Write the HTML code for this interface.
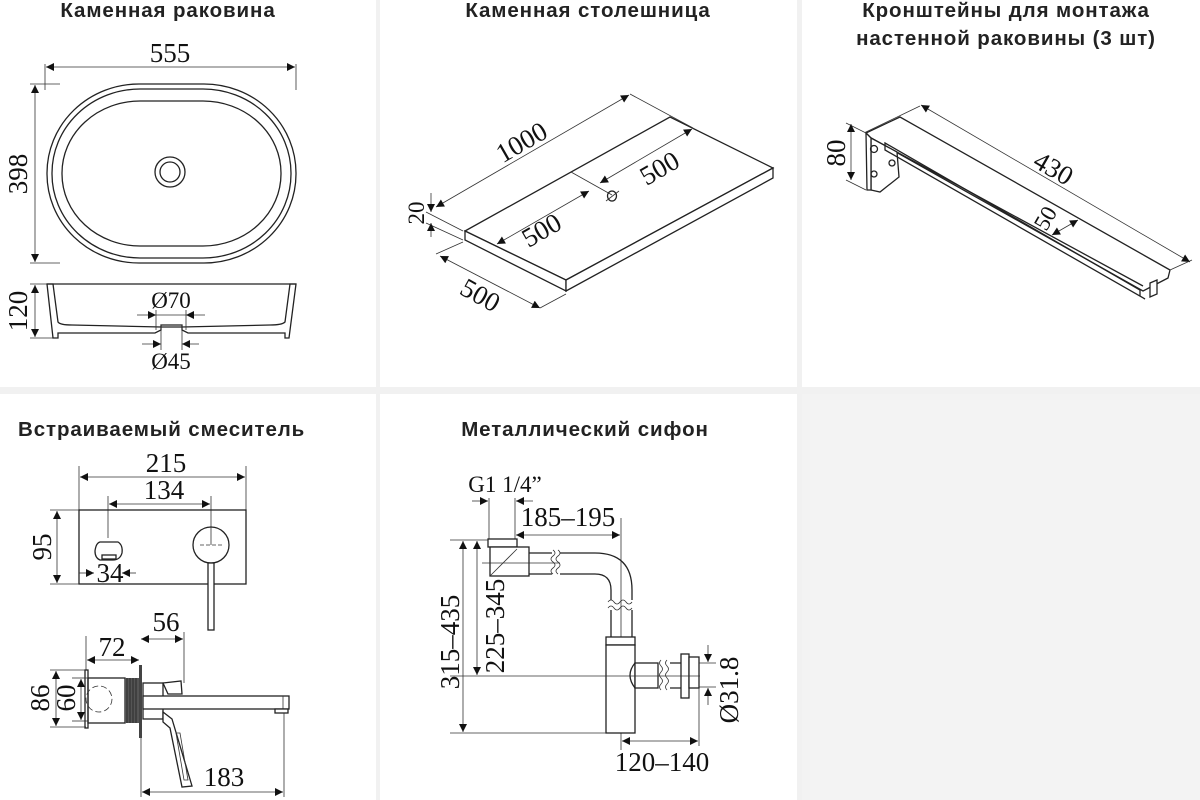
<!DOCTYPE html>
<html><head><meta charset="utf-8"><style>
html,body{margin:0;padding:0;background:#fff}
svg{display:block}
.t{font-family:"Liberation Sans",sans-serif;font-weight:bold;font-size:20.5px;letter-spacing:0.9px;fill:#222}
.n{font-family:"Liberation Serif",serif;font-size:27px;fill:#111}
.s{font-size:23px}
.l{stroke:#222;stroke-width:1.3;fill:none}
.th{stroke:#333;stroke-width:0.8;fill:none}
.w{stroke:#222;stroke-width:1.3;fill:#fff}
</style></head><body>
<svg width="1200" height="800" viewBox="0 0 1200 800" xmlns="http://www.w3.org/2000/svg">
<defs>
<marker id="a" viewBox="0 0 10 10" refX="10" refY="5" markerWidth="14" markerHeight="8" markerUnits="userSpaceOnUse" orient="auto-start-reverse"><path d="M0,0L10,5L0,10z" fill="#111"/></marker>
<pattern id="h" width="5" height="5" patternUnits="userSpaceOnUse" patternTransform="rotate(45)"><rect width="5" height="5" fill="#fff"/><line x1="0" y1="0" x2="0" y2="5" stroke="#333" stroke-width="1.4"/></pattern>
</defs>
<rect x="0" y="0" width="1200" height="800" fill="#fff"/>
<rect x="376" y="0" width="4" height="800" fill="#f1f1f1"/>
<rect x="797" y="0" width="5" height="800" fill="#f1f1f1"/>
<rect x="0" y="387" width="1200" height="7" fill="#f1f1f1"/>
<rect x="802" y="394" width="398" height="406" fill="#f3f3f3"/>

<!-- Panel 1 -->
<text class="t" x="168" y="17" text-anchor="middle">Каменная раковина</text>
<text class="n" x="170" y="62" text-anchor="middle">555</text>
<line class="th" x1="45" y1="64" x2="45" y2="90"/><line class="th" x1="296" y1="64" x2="296" y2="90"/>
<line class="th" x1="46" y1="67" x2="295" y2="67" marker-start="url(#a)" marker-end="url(#a)"/>
<rect class="l" x="47" y="84" width="249" height="179" rx="92" ry="89"/>
<rect class="l" x="52" y="89" width="239" height="169" rx="88" ry="84"/>
<rect class="l" x="62" y="101" width="219" height="145" rx="78" ry="72"/>
<circle class="l" cx="170" cy="172" r="15"/><circle class="l" cx="170" cy="172" r="10"/>
<line class="th" x1="30" y1="84" x2="60" y2="84"/><line class="th" x1="30" y1="263" x2="60" y2="263"/>
<line class="th" x1="35" y1="85" x2="35" y2="262" marker-start="url(#a)" marker-end="url(#a)"/>
<text class="n" transform="translate(27,174) rotate(-90)" text-anchor="middle">398</text>
<line class="th" x1="30" y1="284" x2="50" y2="284"/><line class="th" x1="30" y1="338" x2="55" y2="338"/>
<line class="th" x1="35" y1="285" x2="35" y2="337" marker-start="url(#a)" marker-end="url(#a)"/>
<text class="n" transform="translate(27,311) rotate(-90)" text-anchor="middle">120</text>
<line class="l" x1="47" y1="284" x2="296" y2="284"/>
<path class="l" d="M47,284 L53,338 L58,338 L58,333 L155,333 L161,330 L161,325 L182,325 L182,330 L188,333 L285,333 L285,338 L289,338 L296,284 L290,284 L285,322 Q282,325 270,325 L182,327 L161,327 L72,325 Q60,325 58,322 L53,284 Z" fill="url(#h)"/>
<line class="th" x1="161" y1="325" x2="161" y2="350"/><line class="th" x1="182" y1="325" x2="182" y2="350"/>
<line class="th" x1="156" y1="310" x2="156" y2="330"/><line class="th" x1="186" y1="310" x2="186" y2="330"/>
<line class="th" x1="137" y1="315" x2="156" y2="315" marker-end="url(#a)"/><line class="th" x1="205" y1="315" x2="186" y2="315" marker-end="url(#a)"/>
<line class="th" x1="156" y1="315" x2="186" y2="315"/>
<text class="n s" x="171" y="308" text-anchor="middle">Ø70</text>
<line class="th" x1="142" y1="344" x2="161" y2="344" marker-end="url(#a)"/><line class="th" x1="199" y1="344" x2="182" y2="344" marker-end="url(#a)"/>
<text class="n s" x="171" y="369" text-anchor="middle">Ø45</text>

<!-- Panel 2 -->
<text class="t" x="588" y="17" text-anchor="middle">Каменная столешница</text>
<polygon class="w" points="465,231 670,117 773,168 566,280"/>
<polygon class="w" points="465,231 566,280 566,291 465,240"/>
<polygon class="w" points="566,280 773,168 773,178 566,291"/>
<line class="th" x1="571" y1="172" x2="612" y2="195"/>
<ellipse class="l" cx="612" cy="196" rx="4.5" ry="5"/>
<line class="th" x1="606" y1="201" x2="619" y2="191"/>
<line class="th" x1="436" y1="207" x2="629" y2="95" marker-start="url(#a)" marker-end="url(#a)"/>
<line class="th" x1="630" y1="94" x2="693" y2="128"/>
<text class="n" transform="translate(526,150) rotate(-30)" text-anchor="middle">1000</text>
<line class="th" x1="600" y1="183" x2="692" y2="129" marker-start="url(#a)" marker-end="url(#a)"/>
<text class="n" transform="translate(664,176) rotate(-30)" text-anchor="middle">500</text>
<line class="th" x1="497" y1="244" x2="589" y2="191" marker-start="url(#a)" marker-end="url(#a)"/>
<text class="n" transform="translate(546,238) rotate(-30)" text-anchor="middle">500</text>
<line class="th" x1="426" y1="212" x2="463" y2="231"/><line class="th" x1="426" y1="223" x2="463" y2="240"/>
<line class="th" x1="431" y1="193" x2="431" y2="212" marker-end="url(#a)"/><line class="th" x1="431" y1="237" x2="431" y2="223" marker-end="url(#a)"/>
<text class="n s" transform="translate(424,213) rotate(-90)" text-anchor="middle">20</text>
<line class="th" x1="440" y1="256" x2="540" y2="308" marker-start="url(#a)" marker-end="url(#a)"/>
<line class="th" x1="436" y1="254" x2="463" y2="242"/>
<line class="th" x1="540" y1="308" x2="566" y2="294"/>
<text class="n" transform="translate(476,303) rotate(29)" text-anchor="middle">500</text>

<!-- Panel 3 -->
<text class="t" x="1006" y="17" text-anchor="middle">Кронштейны для монтажа</text>
<text class="t" x="1006" y="45" text-anchor="middle">настенной раковины (3 шт)</text>
<polygon class="w" points="866,133 900,117 1170,270 1168,278 1143,291 871,138"/>
<line class="l" x1="871" y1="138" x2="1143" y2="286"/>
<polygon class="w" points="871,138 897,152 899,177 880,192 871,190"/>
<polygon class="w" points="866,133 871,138 871,190 867,190"/>
<path class="l" d="M885,143 L1140,290 L1140,296 L1145,299 L885,150 Z"/>
<polygon class="w" points="1150,283 1157,280 1157,294 1150,297"/>
<circle class="l" cx="874" cy="149" r="3.5"/><circle class="l" cx="892" cy="163" r="3"/><circle class="l" cx="874" cy="174" r="3"/>
<line class="th" x1="866" y1="132" x2="920" y2="106"/>
<line class="th" x1="921" y1="105" x2="1190" y2="262" marker-start="url(#a)" marker-end="url(#a)"/>
<line class="th" x1="1170" y1="270" x2="1192" y2="260"/>
<text class="n" transform="translate(1049,176) rotate(30)" text-anchor="middle">430</text>
<line class="th" x1="1052" y1="235" x2="1078" y2="220" marker-start="url(#a)" marker-end="url(#a)"/>
<text class="n s" transform="translate(1052,222) rotate(-60)" text-anchor="middle">50</text>
<line class="th" x1="846" y1="123" x2="866" y2="133"/><line class="th" x1="846" y1="180" x2="866" y2="190"/>
<line class="th" x1="851" y1="124" x2="851" y2="180" marker-start="url(#a)" marker-end="url(#a)"/>
<text class="n" transform="translate(845,153) rotate(-90)" text-anchor="middle">80</text>

<!-- Panel 4 -->
<text class="t" x="18" y="436">Встраиваемый смеситель</text>
<text class="n" x="166" y="472" text-anchor="middle">215</text>
<line class="th" x1="79" y1="466" x2="79" y2="510"/><line class="th" x1="246" y1="466" x2="246" y2="510"/>
<line class="th" x1="80" y1="477" x2="245" y2="477" marker-start="url(#a)" marker-end="url(#a)"/>
<text class="n" x="164" y="499" text-anchor="middle">134</text>
<line class="th" x1="108" y1="496" x2="108" y2="538"/><line class="th" x1="211" y1="496" x2="211" y2="545"/>
<line class="th" x1="109" y1="504" x2="210" y2="504" marker-start="url(#a)" marker-end="url(#a)"/>
<rect class="l" x="79" y="510" width="167" height="74"/>
<line class="th" x1="50" y1="510" x2="79" y2="510"/><line class="th" x1="50" y1="584" x2="79" y2="584"/>
<line class="th" x1="57" y1="511" x2="57" y2="583" marker-start="url(#a)" marker-end="url(#a)"/>
<text class="n" transform="translate(51,547) rotate(-90)" text-anchor="middle">95</text>
<path class="l" d="M100,542 L118,542 Q123,545 122,553 Q120,560 113,560 L100,560 Q95,558 95,551 Q96,543 100,542 Z"/>
<rect class="l" x="102" y="555" width="14" height="4"/>
<line class="th" x1="79" y1="573" x2="94" y2="573" marker-end="url(#a)"/><line class="th" x1="136" y1="573" x2="122" y2="573" marker-end="url(#a)"/>
<text class="n" x="110" y="582" text-anchor="middle">34</text>
<circle class="l" cx="211" cy="545" r="18"/>
<line class="th" x1="200" y1="545" x2="222" y2="545" stroke-dasharray="4,2"/>
<rect class="w" x="208" y="563" width="6" height="67"/>
<text class="n" x="166" y="631" text-anchor="middle">56</text>
<line class="th" x1="184" y1="632" x2="184" y2="683"/>
<line class="th" x1="141" y1="639" x2="183" y2="639" marker-start="url(#a)" marker-end="url(#a)"/>
<text class="n" x="112" y="656" text-anchor="middle">72</text>
<line class="th" x1="86" y1="636" x2="86" y2="670"/>
<line class="th" x1="87" y1="660" x2="139" y2="660" marker-start="url(#a)" marker-end="url(#a)"/>
<rect class="w" x="85" y="670" width="3" height="58"/>
<rect class="l" x="88" y="678" width="37" height="45"/>
<circle class="th" cx="99" cy="699" r="13" stroke-dasharray="6,3"/>
<rect x="125" y="678" width="14" height="45" fill="#555"/>
<g stroke="#222" stroke-width="0.8"><line x1="127" y1="678" x2="127" y2="723"/><line x1="130" y1="678" x2="130" y2="723"/><line x1="133" y1="678" x2="133" y2="723"/><line x1="136" y1="678" x2="136" y2="723"/></g>
<rect x="139" y="665" width="3" height="73" fill="#444"/>
<rect class="w" x="143" y="683" width="20" height="36"/>
<path class="w" d="M163,683 L181,681 L182,694 L168,694 Z"/>
<rect class="w" x="143" y="696" width="146" height="13"/>
<line class="th" x1="283" y1="696" x2="283" y2="709"/>
<rect class="w" x="275" y="709" width="13" height="4"/>
<path class="w" d="M163,712 L172,719 L192,786 L182,787 L170,728 L163,722 Z"/>
<path class="th" d="M176,733 L180,733 L188,780 L184,780 Z"/>
<line class="th" x1="50" y1="670" x2="86" y2="670"/><line class="th" x1="50" y1="727" x2="86" y2="727"/>
<line class="th" x1="72" y1="678" x2="88" y2="678"/><line class="th" x1="72" y1="721" x2="88" y2="721"/>
<line class="th" x1="56" y1="671" x2="56" y2="726" marker-start="url(#a)" marker-end="url(#a)"/>
<line class="th" x1="81" y1="679" x2="81" y2="720" marker-start="url(#a)" marker-end="url(#a)"/>
<text class="n" transform="translate(49,698) rotate(-90)" text-anchor="middle">86</text>
<text class="n" transform="translate(75,698) rotate(-90)" text-anchor="middle">60</text>
<line class="th" x1="141" y1="738" x2="141" y2="797"/><line class="th" x1="284" y1="713" x2="284" y2="797"/>
<line class="th" x1="142" y1="792" x2="283" y2="792" marker-start="url(#a)" marker-end="url(#a)"/>
<text class="n" x="224" y="786" text-anchor="middle">183</text>

<!-- Panel 5 -->
<text class="t" x="585" y="436" text-anchor="middle">Металлический сифон</text>
<text class="n s" x="505" y="492" text-anchor="middle">G1 1/4”</text>
<line class="th" x1="489" y1="498" x2="489" y2="539"/><line class="th" x1="515" y1="498" x2="515" y2="539"/>
<line class="th" x1="472" y1="501" x2="488" y2="501" marker-end="url(#a)"/><line class="th" x1="533" y1="501" x2="516" y2="501" marker-end="url(#a)"/>
<text class="n" x="568" y="526" text-anchor="middle">185–195</text>
<line class="th" x1="621" y1="518" x2="621" y2="750"/>
<line class="th" x1="516" y1="535" x2="620" y2="535" marker-start="url(#a)" marker-end="url(#a)"/>
<rect class="w" x="488" y="539" width="29" height="8"/>
<rect class="w" x="490" y="547" width="39" height="29"/>
<line class="th" x1="490" y1="576" x2="517" y2="549"/>
<line class="th" x1="482" y1="563" x2="560" y2="563"/>
<path class="l" d="M529,553 L552,553 M529,574 L552,574"/>
<path class="th" d="M553,550 q4,3 0,6 q-4,3 0,6 q4,3 0,6 q-4,3 0,6 M558,550 q4,3 0,6 q-4,3 0,6 q4,3 0,6 q-4,3 0,6"/>
<path class="l" d="M560,553 L595,553 Q632,553 632,590 L632,600 M560,574 L595,574 Q611,574 611,590 L611,600"/>
<path class="th" d="M608,602 q3,-4 6,0 q3,4 6,0 q3,-4 6,0 q3,4 6,0 M608,608 q3,-4 6,0 q3,4 6,0 q3,-4 6,0 q3,4 6,0"/>
<path class="l" d="M611,610 L611,637 M632,610 L632,637"/>
<rect class="w" x="606" y="637" width="29" height="8"/>
<rect class="w" x="606" y="645" width="29" height="88"/>
<rect class="w" x="635" y="663" width="23" height="25"/>
<path class="l" d="M635,663 Q625,675 635,688"/>
<path class="th" d="M661,660 q-3,3 0,6 q3,3 0,6 q-3,3 0,6 q3,3 0,6 q-3,3 0,6 M667,660 q-3,3 0,6 q3,3 0,6 q-3,3 0,6 q3,3 0,6 q-3,3 0,6"/>
<path class="l" d="M670,663 L681,663 M670,688 L681,688"/>
<rect class="w" x="681" y="654" width="8" height="44"/>
<rect class="w" x="689" y="657" width="10" height="31"/>
<line class="th" x1="450" y1="676" x2="700" y2="676"/>
<line class="th" x1="450" y1="540" x2="488" y2="540"/><line class="th" x1="450" y1="733" x2="606" y2="733"/>
<line class="th" x1="463" y1="541" x2="463" y2="732" marker-start="url(#a)" marker-end="url(#a)"/>
<line class="th" x1="477" y1="541" x2="477" y2="675" marker-start="url(#a)" marker-end="url(#a)"/>
<text class="n" transform="translate(459,642) rotate(-90)" text-anchor="middle">315–435</text>
<text class="n" transform="translate(504,626) rotate(-90)" text-anchor="middle">225–345</text>
<line class="th" x1="699" y1="663" x2="716" y2="663"/><line class="th" x1="699" y1="687" x2="716" y2="687"/>
<line class="th" x1="708" y1="645" x2="708" y2="662" marker-end="url(#a)"/><line class="th" x1="708" y1="705" x2="708" y2="688" marker-end="url(#a)"/>
<text class="n" transform="translate(738,690) rotate(-90)" text-anchor="middle">Ø31.8</text>
<line class="th" x1="699" y1="688" x2="699" y2="746"/>
<line class="th" x1="622" y1="741" x2="698" y2="741" marker-start="url(#a)" marker-end="url(#a)"/>
<text class="n" x="662" y="771" text-anchor="middle">120–140</text>
</svg>
</body></html>
